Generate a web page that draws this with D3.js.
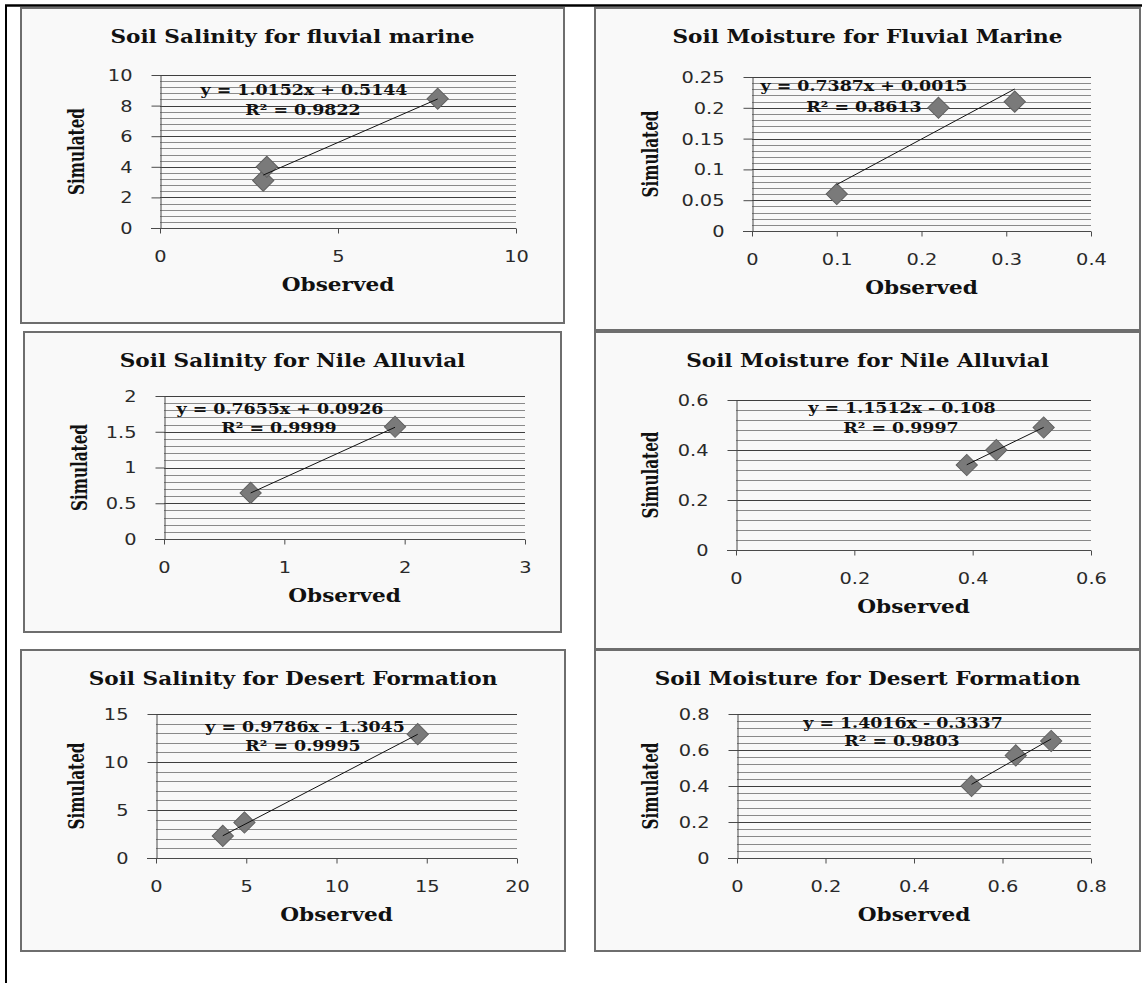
<!DOCTYPE html>
<html>
<head>
<meta charset="utf-8">
<script src="https://cdn.jsdelivr.net/npm/d3@7"></script>
<style>
  html, body { margin: 0; padding: 0; background: #ffffff; }
  svg { display: block; }
</style>
</head>
<body>
<svg id="chart" width="1145" height="983"></svg>
<script>
// ---- data ----
const titles = [
  "Soil Salinity for fluvial marine",
  "Soil Moisture for Fluvial Marine",
  "Soil Salinity for Nile Alluvial",
  "Soil Moisture for Nile Alluvial",
  "Soil Salinity for Desert Formation",
  "Soil Moisture for Desert Formation"
];

const salinityFluvialObserved = [2.9, 3.0, 7.8];
const salinityFluvialSimulated = [3.1, 4.0, 8.45];
const moistureFluvialObserved = [0.10, 0.22, 0.31];
const moistureFluvialSimulated = [0.06, 0.20, 0.21];
const salinityNileObserved = [0.72, 1.92];
const salinityNileSimulated = [0.645, 1.57];
const moistureNileObserved = [0.39, 0.44, 0.52];
const moistureNileSimulated = [0.34, 0.40, 0.49];
const salinityDesertObserved = [3.7, 4.9, 14.5];
const salinityDesertSimulated = [2.3, 3.7, 12.9];
const moistureDesertObserved = [0.53, 0.63, 0.71];
const moistureDesertSimulated = [0.40, 0.57, 0.65];

const observedSets = [salinityFluvialObserved, moistureFluvialObserved, salinityNileObserved,
                      moistureNileObserved, salinityDesertObserved, moistureDesertObserved];
const simulatedSets = [salinityFluvialSimulated, moistureFluvialSimulated, salinityNileSimulated,
                       moistureNileSimulated, salinityDesertSimulated, moistureDesertSimulated];

// linear trend lines
const slopes = [1.0152, 0.7387, 0.7655, 1.1512, 0.9786, 1.4016];
const intercepts = [0.5144, 0.0015, 0.0926, -0.108, -1.3045, -0.3337];
const rSquared = ["0.9822", "0.8613", "0.9999", "0.9997", "0.9995", "0.9803"];

// axis ticks
const xTicks = [[0, 5, 10], [0, 0.1, 0.2, 0.3, 0.4], [0, 1, 2, 3],
                [0, 0.2, 0.4, 0.6], [0, 5, 10, 15, 20], [0, 0.2, 0.4, 0.6, 0.8]];
const yTicks = [[0, 2, 4, 6, 8, 10], [0, 0.05, 0.1, 0.15, 0.2, 0.25], [0, 0.5, 1, 1.5, 2],
                [0, 0.2, 0.4, 0.6], [0, 5, 10, 15], [0, 0.2, 0.4, 0.6, 0.8]];

const xLabel = "Observed";
const yLabel = "Simulated";

// ---- layout ----
const layout = [
  { box: [21, 8, 564, 323],   plot: [160, 75, 516, 228],  eq: [304, 90, 303, 110] },
  { box: [595, 8, 1140, 330], plot: [752, 77, 1091, 231], eq: [864, 86, 864, 107] },
  { box: [24, 332, 561, 632], plot: [164, 396, 525, 539], eq: [280, 409, 279, 428] },
  { box: [595, 332, 1140, 649], plot: [736, 400, 1091, 550], eq: [902, 408, 901, 428] },
  { box: [21, 650, 565, 951], plot: [156, 714, 517, 858], eq: [305, 727, 303, 746] },
  { box: [595, 650, 1140, 951], plot: [737, 714, 1091, 858], eq: [903, 723, 902, 741] }
];

const serif = "'DejaVu Serif', 'Liberation Serif', serif";
const sans = "'DejaVu Sans', Verdana, sans-serif";
const WIDE = 1.2;       // horizontal widening of the lettering

const svg = d3.select("#chart");

// page rules
svg.append("line").attr("x1", 5).attr("x2", 1142).attr("y1", 5.5).attr("y2", 5.5)
  .attr("stroke", "#000").attr("stroke-width", 2.5);
svg.append("line").attr("x1", 6).attr("x2", 6).attr("y1", 5).attr("y2", 983)
  .attr("stroke", "#000").attr("stroke-width", 2);

const fmtNum = v => String(v);

// horizontal text placed at (x, y), widened about its anchor
function wideText(parent, x, y, str, size, family, weight, anchor, sx) {
  return parent.append("text")
    .attr("transform", `translate(${x},${y}) scale(${sx || WIDE},1)`)
    .attr("dy", "0.35em").attr("text-anchor", anchor || "middle")
    .attr("font-family", family).attr("font-weight", weight || "normal")
    .attr("font-size", size).attr("fill", "#111").text(str);
}

titles.forEach((title, i) => {
  const L = layout[i];
  const [bx0, by0, bx1, by1] = L.box;
  const [pl, pt, pr, pb] = L.plot;
  const g = svg.append("g");

  // chart frame
  g.append("rect")
    .attr("x", bx0).attr("y", by0).attr("width", bx1 - bx0).attr("height", by1 - by0)
    .attr("fill", "#f9f9f9").attr("stroke", "#6e6e6e").attr("stroke-width", 2);

  const xt = xTicks[i], yt = yTicks[i];
  const x = d3.scaleLinear().domain([xt[0], xt[xt.length - 1]]).range([pl, pr]);
  const y = d3.scaleLinear().domain([yt[0], yt[yt.length - 1]]).range([pb, pt]);

  // minor gridlines: five subdivisions per major step
  const majorStep = yt[1] - yt[0];
  const minor = [];
  for (let k = 0; k < yt.length - 1; k++) {
    for (let m = 1; m < 5; m++) minor.push(yt[k] + majorStep * m / 5);
  }
  g.selectAll(".minor").data(minor).join("line")
    .attr("x1", pl).attr("x2", pr)
    .attr("y1", d => Math.round(y(d)) + 0.5).attr("y2", d => Math.round(y(d)) + 0.5)
    .attr("stroke", "#8a8a8a").attr("stroke-width", 1);

  // major gridlines
  g.selectAll(".major").data(yt.slice(1)).join("line")
    .attr("x1", pl).attr("x2", pr)
    .attr("y1", d => Math.round(y(d)) + 0.5).attr("y2", d => Math.round(y(d)) + 0.5)
    .attr("stroke", "#3f3f3f").attr("stroke-width", 1);

  // y axis
  const yAxis = g.append("g").attr("transform", `translate(${pl + 0.5},0)`)
    .call(d3.axisLeft(y).tickValues(yt).tickSize(9).tickSizeOuter(0).tickPadding(19).tickFormat(fmtNum));
  yAxis.selectAll("text").attr("x", 0).attr("dy", "0.35em")
    .attr("transform", `translate(-28,0) scale(1.25,1)`);
  // x axis
  const xAxis = g.append("g").attr("transform", `translate(0,${Math.round(pb) + 0.5})`)
    .call(d3.axisBottom(x).tickValues(xt).tickSize(5).tickSizeOuter(0).tickFormat(fmtNum));
  xAxis.selectAll("text").attr("y", 0).attr("dy", "0.35em")
    .attr("transform", `translate(0,28) scale(1.25,1)`);
  // extend the x axis line to meet the outer end of the y ticks
  xAxis.select(".domain").attr("d", `M${pl - 9},0H${pr}`);

  [yAxis, xAxis].forEach(a => {
    a.select(".domain").attr("stroke", "#4a4a4a");
    a.selectAll(".tick line").attr("stroke", "#4a4a4a");
    a.selectAll("text").attr("font-family", sans).attr("font-size", 15.5).attr("fill", "#2a2a2a");
  });

  // trend line across the observed range
  const obs = observedSets[i], sim = simulatedSets[i];
  const x0 = d3.min(obs), x1 = d3.max(obs);
  const f = v => slopes[i] * v + intercepts[i];

  // points (diamonds)
  const pts = obs.map((v, k) => [v, sim[k]]);
  g.selectAll(".pt").data(pts).join("path")
    .attr("d", d3.symbol(d3.symbolSquare, 225)())
    .attr("transform", d => `translate(${x(d[0])},${y(d[1])}) rotate(45)`)
    .attr("fill", "#7a7a7a").attr("stroke", "#606060").attr("stroke-width", 1);

  g.append("line")
    .attr("x1", x(x0)).attr("y1", y(f(x0))).attr("x2", x(x1)).attr("y2", y(f(x1)))
    .attr("stroke", "#111").attr("stroke-width", 1);

  // equation labels
  const b = intercepts[i];
  const eqText = `y = ${slopes[i]}x ${b < 0 ? "-" : "+"} ${Math.abs(b)}`;
  wideText(g, L.eq[0], L.eq[1], eqText, 14.5, serif, "bold");
  wideText(g, L.eq[2], L.eq[3], `R² = ${rSquared[i]}`, 14.5, serif, "bold");

  // title
  wideText(g, (bx0 + bx1) / 2, by0 + 29, title, 18, serif, "bold");

  // axis titles
  wideText(g, (pl + pr) / 2, pb + 57, xLabel, 18, serif, "bold");
  g.append("text")
    .attr("transform", `translate(${bx0 + 55},${(pt + pb) / 2}) rotate(-90) scale(1,${WIDE})`)
    .attr("dy", "0.35em").attr("text-anchor", "middle")
    .attr("font-family", serif).attr("font-weight", "bold").attr("font-size", 19)
    .attr("textLength", 87).attr("lengthAdjust", "spacingAndGlyphs")
    .attr("fill", "#111").text(yLabel);
});
</script>
</body>
</html>
